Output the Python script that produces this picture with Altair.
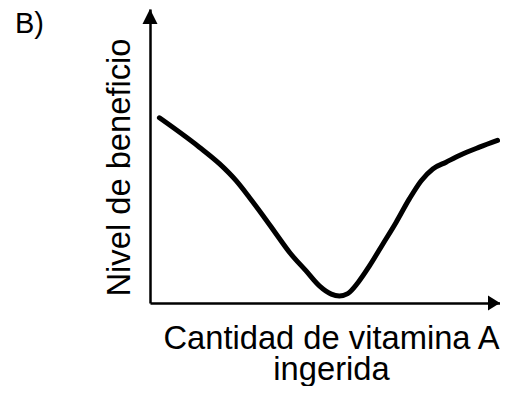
import altair as alt
import pandas as pd

# Curve (x: amount of vitamin A, y: benefit level, both 0-100)
curve_x = [2.7, 14.1, 19.9, 24.6, 28.4, 32.3, 36.1, 39.9, 44.6, 48.4, 51.8, 54.1, 56.5,
           59.4, 62.7, 66.5, 70.3, 74.1, 77.5, 80.8, 84.6, 88.4, 94.1, 99.3]
curve_y = [63.0, 53.0, 47.3, 41.6, 35.9, 29.7, 23.4, 17.2, 10.9, 5.8, 3.0, 2.4, 3.2,
           6.9, 12.6, 20.0, 27.4, 35.4, 41.6, 45.6, 47.9, 50.2, 53.0, 55.3]

x_title = ["Cantidad de vitamina A", "ingerida"]
y_title = "Nivel de beneficio"
panel_label = "B)"

FONT = "Liberation Sans"

curve = pd.DataFrame({"x": curve_x, "y": curve_y})
arrow_x = pd.DataFrame({"x": [100], "y": [0]})
arrow_y = pd.DataFrame({"x": [0], "y": [100]})
label = pd.DataFrame({"t": [panel_label]})

xs = alt.Scale(domain=[0, 100], nice=False, zero=False)
ys = alt.Scale(domain=[0, 100], nice=False, zero=False)

x_axis = alt.Axis(title=x_title, labels=False, ticks=False, grid=False,
                  domainColor="black", domainWidth=2.5,
                  titleFont=FONT, titleFontSize=32.7, titleFontWeight="normal",
                  titleColor="black", titleBaseline="alphabetic", titleY=45,
                  titleX=181, titleLineHeight=31, titleAlign="center")
y_axis = alt.Axis(title=y_title, labels=False, ticks=False, grid=False,
                  domainColor="black", domainWidth=2.5,
                  titleFont=FONT, titleFontSize=32.7, titleFontWeight="normal",
                  titleColor="black", titleBaseline="alphabetic", titleX=-21,
                  titleY=158, titleAngle=-90, titleAlign="center")

line = alt.Chart(curve).mark_line(color="black", strokeWidth=5, interpolate="monotone",
                                  strokeCap="round", clip=False).encode(
    x=alt.X("x:Q", scale=xs, axis=x_axis),
    y=alt.Y("y:Q", scale=ys, axis=y_axis),
)

ah_x = alt.Chart(arrow_x).mark_point(filled=True, color="black", opacity=1,
                                     shape="M0,0 L-0.8,-0.5 L-0.8,0.5 Z", size=900).encode(
    x=alt.X("x:Q", scale=xs), y=alt.Y("y:Q", scale=ys))
ah_y = alt.Chart(arrow_y).mark_point(filled=True, color="black", opacity=1,
                                     shape="M0,0 L-0.5,1 L0.5,1 Z", size=900).encode(
    x=alt.X("x:Q", scale=xs), y=alt.Y("y:Q", scale=ys))

txt = alt.Chart(label).mark_text(font=FONT, fontSize=29, color="black", align="left",
                                 baseline="alphabetic").encode(
    text="t:N", x=alt.value(-135), y=alt.value(24.3))

chart = alt.layer(line, ah_x, ah_y, txt).properties(
    width=350, height=294,
    autosize=alt.AutoSizeParams(type="none"),
    padding={"left": 142, "top": 1, "right": 0, "bottom": 83},
).configure_view(stroke=None)

chart.save("out.html", embed_options={"renderer": "svg", "actions": False})
